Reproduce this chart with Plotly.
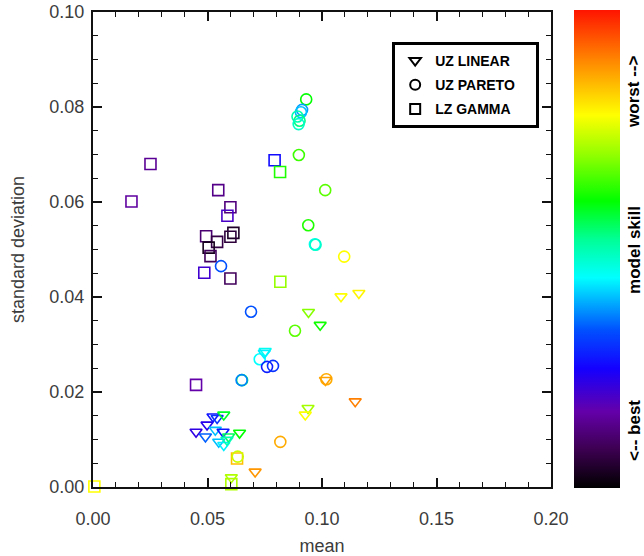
import plotly.graph_objects as go

# LZ GAMMA (squares)
sq_x = [0.0000, 0.0006, 0.0251, 0.0168, 0.0547, 0.0600, 0.0587, 0.0494, 0.0613, 0.0600,
        0.0542, 0.0505, 0.0513, 0.0486, 0.0600, 0.0450, 0.0793, 0.0817, 0.0818, 0.0629, 0.0604]
sq_y = [-0.0004, 0.0001, 0.0680, 0.0601, 0.0625, 0.0589, 0.0571, 0.0528, 0.0535, 0.0527,
        0.0516, 0.0504, 0.0486, 0.0451, 0.0439, 0.0215, 0.0688, 0.0663, 0.0432, 0.0060, 0.0006]
sq_c = [0.96, 0.78, 0.14, 0.15, 0.13, 0.12, 0.19, 0.11, 0.04, 0.06,
        0.07, 0.03, 0.09, 0.20, 0.09, 0.16, 0.26, 0.62, 0.70, 0.84, 0.72]

# UZ PARETO (circles)
ci_x = [0.0931, 0.0913, 0.0908, 0.0893, 0.0902, 0.0898, 0.0899, 0.1014, 0.0940, 0.0969,
        0.0972, 0.1097, 0.0559, 0.0690, 0.0882, 0.0728, 0.0760, 0.0786, 0.0651, 0.0649,
        0.1019, 0.0818, 0.0632]
ci_y = [0.0816, 0.0794, 0.0789, 0.0780, 0.0771, 0.0764, 0.0699, 0.0625, 0.0551, 0.0511,
        0.0510, 0.0485, 0.0465, 0.0369, 0.0329, 0.0269, 0.0253, 0.0255, 0.0225, 0.0225,
        0.0227, 0.0095, 0.0064]
ci_c = [0.60, 0.38, 0.40, 0.50, 0.53, 0.48, 0.64, 0.66, 0.62, 0.45,
        0.48, 0.78, 0.33, 0.33, 0.66, 0.44, 0.28, 0.30, 0.55, 0.36,
        0.86, 0.86, 0.74]

# UZ LINEAR (triangles)
tr_x = [0.1083, 0.1161, 0.0941, 0.0992, 0.0752, 0.0748, 0.1015, 0.1145, 0.0939, 0.0927,
        0.0450, 0.0491, 0.0498, 0.0524, 0.0542, 0.0571, 0.0534, 0.0568, 0.0549, 0.0571,
        0.0592, 0.0585, 0.0640, 0.0604, 0.0708]
tr_y = [0.0401, 0.0408, 0.0368, 0.0341, 0.0286, 0.0282, 0.0225, 0.0180, 0.0166, 0.0152,
        0.0116, 0.0106, 0.0131, 0.0148, 0.0145, 0.0152, 0.0120, 0.0116, 0.0095, 0.0088,
        0.0106, 0.0099, 0.0114, 0.0020, 0.0032]
tr_c = [0.78, 0.79, 0.69, 0.61, 0.45, 0.43, 0.87, 0.90, 0.71, 0.78,
        0.22, 0.34, 0.23, 0.27, 0.30, 0.58, 0.40, 0.27, 0.40, 0.43,
        0.55, 0.50, 0.60, 0.72, 0.88]

legend_names = ["UZ LINEAR", "UZ PARETO", "LZ GAMMA"]

rainbow = [
    [0.00, "rgb(0,0,0)"],
    [0.08, "rgb(60,0,80)"],
    [0.16, "rgb(100,0,170)"],
    [0.25, "rgb(20,0,255)"],
    [0.33, "rgb(0,80,255)"],
    [0.44, "rgb(0,255,255)"],
    [0.52, "rgb(0,255,150)"],
    [0.60, "rgb(0,255,0)"],
    [0.70, "rgb(150,255,0)"],
    [0.78, "rgb(255,255,0)"],
    [0.88, "rgb(255,150,0)"],
    [1.00, "rgb(255,20,0)"],
]

W, H = 644, 556
L, R, T, B = 92.5, 93, 12, 69
PW = W - L - R
PH = H - T - B

def px(xs):
    return (xs - L) / PW

def py(ys):
    return (H - B - ys) / PH

fig = go.Figure()

def add(xs, ys, cs, sym, size):
    fig.add_trace(go.Scatter(
        x=xs, y=ys, mode="markers", showlegend=False, cliponaxis=False,
        marker=dict(symbol=sym, size=size, color=cs, coloraxis="coloraxis",
                    line=dict(width=1.6)),
    ))

add(sq_x, sq_y, sq_c, "square-open", 11)
add(ci_x, ci_y, ci_c, "circle-open", 11)
add(tr_x, tr_y, tr_c, "triangle-down-open", 10.5)

pad = "\u00a0" * 4
for i, (name, sym) in enumerate(zip(legend_names, ["triangle-down-open", "circle-open", "square-open"])):
    fig.add_trace(go.Scatter(
        x=[None], y=[None], mode="markers", name=name + pad, legendgroup=f"g{i}",
        marker=dict(symbol=sym, size=10, color="black", line=dict(width=2, color="black")),
    ))

axis_font = dict(family="Liberation Sans, Arial, sans-serif", size=18, color="#3c3c3c")

fig.update_layout(
    width=W, height=H,
    margin=dict(l=L, r=R, t=T, b=B, autoexpand=False),
    paper_bgcolor="white", plot_bgcolor="white",
    font=axis_font,
    coloraxis=dict(
        colorscale=rainbow, cmin=0, cmax=1,
        colorbar=dict(
            x=px(574), xanchor="left", xpad=0, ypad=0,
            y=py(10), yanchor="top",
            len=478 / PH, lenmode="fraction",
            thickness=46, thicknessmode="pixels",
            outlinewidth=0, showticklabels=False, ticks="",
        ),
    ),
    legend=dict(
        x=px(392), xanchor="left",
        y=py(42), yanchor="top",
        bordercolor="black", borderwidth=3, bgcolor="white",
        font=dict(family="Liberation Sans, Arial, sans-serif", size=14, color="black", weight="bold"),
        itemwidth=30, tracegroupgap=3,
    ),
    xaxis=dict(
        range=[0, 0.2], dtick=0.05, tickformat=".2f",
        showline=True, linecolor="#111", linewidth=2, mirror="ticks",
        ticks="inside", ticklen=9, tickwidth=1.5, tickcolor="#111",
        minor=dict(dtick=0.01, ticks="inside", ticklen=5, tickwidth=1.2, tickcolor="#111"),
        showgrid=False, zeroline=False, ticklabeloverflow="allow",
        ticklabelstandoff=14,
        title=dict(text="mean", standoff=12, font=axis_font),
    ),
    yaxis=dict(
        range=[0, 0.1], dtick=0.02, tickformat=".2f",
        showline=True, linecolor="#111", linewidth=2, mirror="ticks",
        ticks="inside", ticklen=9, tickwidth=1.5, tickcolor="#111",
        minor=dict(dtick=0.005, ticks="inside", ticklen=5, tickwidth=1.2, tickcolor="#111"),
        showgrid=False, zeroline=False, ticklabeloverflow="allow",
        ticklabelstandoff=3,
        title=dict(text="standard deviation", standoff=20, font=axis_font),
    ),
)

lab_font = dict(family="Liberation Sans, Arial, sans-serif", size=17, color="black", weight="bold")
for txt, yy in [("worst -->", 92), ("model skill", 250), ("<-- best", 430)]:
    fig.add_annotation(
        text=txt, xref="paper", yref="paper",
        x=px(634), y=py(yy),
        xanchor="center", yanchor="middle",
        textangle=-90, showarrow=False, font=lab_font,
    )

fig.write_html(
    "out.html",
    config={"displayModeBar": False},
    post_script="document.body.style.margin='0';document.body.style.overflow='hidden';",
)
